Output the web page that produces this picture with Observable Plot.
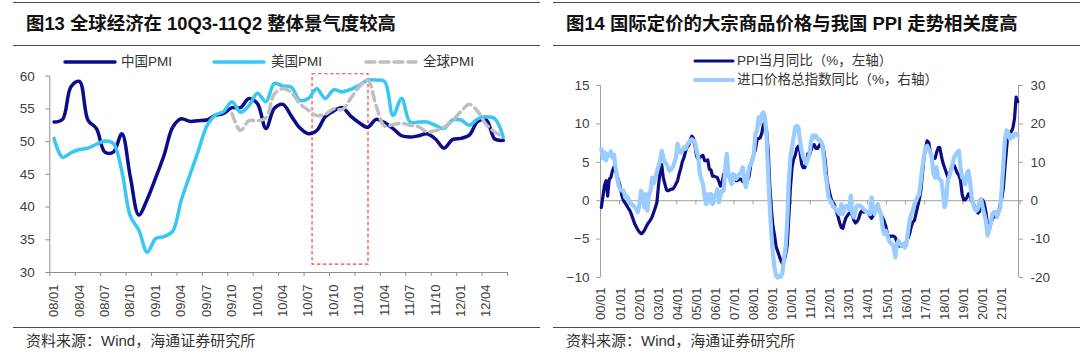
<!DOCTYPE html>
<html><head><meta charset="utf-8">
<script src="https://cdn.jsdelivr.net/npm/d3@7"></script>
<script src="https://cdn.jsdelivr.net/npm/@observablehq/plot@0.6"></script>
<style>
body{margin:0;background:#fff;}
#page{position:relative;width:1080px;height:355px;overflow:hidden;background:#fff;font-family:"Liberation Sans","Noto Sans CJK SC",sans-serif;}
.rule{position:absolute;height:0;border-top:1.8px solid #4a4a4a;}
.title{position:absolute;font-weight:bold;font-size:18.4px;color:#111;line-height:22px;white-space:nowrap;}
.src{position:absolute;font-size:15px;color:#333;line-height:18px;white-space:nowrap;}
.leg{position:absolute;font-size:13.5px;color:#333;line-height:16px;white-space:nowrap;}
.chart{position:absolute;top:50px;}
svg.sw{position:absolute;overflow:visible;}
</style></head><body><div id="page"></div>
<script>
// ---------------- data: figure 13 (monthly, 2008-01 .. 2012-06) ----------------
const leftXLabels = ["08/01","08/04","08/07","08/10","09/01","09/04","09/07","09/10","10/01","10/04","10/07","10/10","11/01","11/04","11/07","11/10","12/01","12/04"];
const leftYTicks = [30,35,40,45,50,55,60];
const leftSeriesNames = ["中国PMI","美国PMI","全球PMI"];
const chinaPMI = [53.0,53.4,58.4,59.2,53.3,52.0,48.4,48.4,51.2,44.6,38.8,41.2,
  44.5,48.0,52.2,53.5,53.1,53.2,53.3,54.0,54.3,55.2,55.2,56.6,
  55.8,52.0,55.1,55.7,53.9,52.1,51.2,51.7,53.8,54.7,55.2,53.9,
  52.9,52.2,53.4,52.9,52.0,50.9,50.7,50.9,51.2,50.4,49.0,50.3,
  50.5,51.0,53.1,53.3,50.4,50.2];
const usPMI = [50.5,47.6,48.3,48.8,49.0,49.6,50.1,49.7,45.5,38.6,36.5,33.1,
  35.2,35.5,36.3,41.0,44.8,48.5,52.3,54.0,54.6,56.1,54.5,55.5,
  57.4,56.1,58.9,58.5,58.3,56.3,56.6,58.1,56.6,57.9,57.6,58.0,
  58.6,59.4,59.4,59.2,54.0,56.6,53.0,53.0,53.0,52.5,52.0,53.3,
  53.3,52.5,53.5,53.8,53.5,50.7];
const globalPMI = [null,null,null,null,null,null,null,null,null,null,null,null,
  null,null,null,null,null,null,null,null,null,54.3,51.7,53.2,
  53.2,53.6,57.3,58.1,57.5,55.8,54.8,54.0,54.2,55.0,54.9,56.6,
  58.4,59.4,55.5,52.4,52.6,52.8,52.5,52.3,51.5,51.7,52.2,53.2,
  54.6,55.7,54.6,52.6,51.5,50.7];
// highlighted window (month index / PMI units)
const highlightBox = [{x1: 30.5, x2: 37.1, y1: 31.2, y2: 60.3}];

// ---------------- data: figure 14 (monthly, 2000-01 .. 2021-11) ----------------
const rightXLabels = ["00/01","01/01","02/01","03/01","04/01","05/01","06/01","07/01","08/01","09/01","10/01","11/01","12/01","13/01","14/01","15/01","16/01","17/01","18/01","19/01","20/01","21/01"];
const ppiYTicks = [-10,-5,0,5,10,15];
const importYTicks = [-20,-10,0,10,20,30];
const rightSeriesNames = ["PPI当月同比（%，左轴）","进口价格总指数同比（%，右轴）"];
const ppiYoY = [
  -0.9,0.5,2.0,2.6,0.6,2.8,3.0,3.9,4.4,3.9,3.2,2.5,
  1.7,0.6,0.0,-0.3,-0.6,-1.0,-1.3,-1.8,-2.4,-3.0,-3.4,-3.8,
  -4.1,-4.3,-4.2,-3.9,-3.5,-3.1,-2.8,-2.5,-2.1,-1.5,-0.9,-0.2,
  2.0,3.8,4.7,3.0,2.2,1.4,1.3,1.4,1.5,1.5,1.8,2.2,
  2.6,3.5,4.2,5.1,5.6,6.4,7.0,7.2,7.9,8.4,8.1,7.1,
  5.8,5.4,5.6,5.8,5.9,5.2,5.2,5.3,4.1,4.0,3.2,3.2,
  3.1,3.0,2.5,1.9,2.4,3.5,3.6,3.4,3.5,2.9,2.8,3.1,
  3.3,2.6,2.7,2.8,2.8,2.5,2.4,2.6,2.7,3.2,4.6,5.4,
  6.1,6.6,8.0,8.1,8.2,8.8,10.0,10.1,9.1,6.6,2.0,-1.1,
  -3.3,-4.5,-6.0,-6.6,-7.2,-7.8,-8.2,-7.9,-7.0,-5.8,-2.1,1.7,
  4.3,5.4,5.9,6.8,7.1,6.4,4.8,4.3,4.3,5.0,6.1,5.9,
  6.6,7.2,7.3,6.8,6.8,7.1,7.5,7.3,6.5,5.0,2.7,1.7,
  0.7,0.0,-0.3,-0.7,-1.4,-2.1,-2.9,-3.5,-3.6,-2.8,-2.2,-1.9,
  -1.6,-1.6,-1.9,-2.6,-2.9,-2.7,-2.3,-1.6,-1.3,-1.5,-1.4,-1.4,
  -1.6,-2.0,-2.3,-2.0,-1.4,-1.1,-0.9,-1.2,-1.8,-2.2,-2.7,-3.3,
  -4.3,-4.8,-4.6,-4.6,-4.6,-4.8,-5.4,-5.9,-5.9,-5.9,-5.9,-5.9,
  -5.3,-4.9,-4.3,-3.4,-2.8,-2.6,-1.7,-0.8,0.1,1.2,3.3,5.5,
  6.9,7.8,7.6,6.4,5.5,5.5,5.5,6.3,6.9,6.9,5.8,4.9,
  4.3,3.7,3.1,3.4,4.1,4.7,4.6,4.1,3.6,3.3,2.7,0.9,
  0.1,0.1,0.4,0.9,0.6,0.0,-0.3,-0.8,-1.2,-1.6,-1.4,-0.5,
  0.1,-0.4,-1.5,-3.1,-3.7,-3.0,-2.4,-2.0,-2.1,-2.1,-1.5,-0.4,
  0.3,1.7,4.4,6.8,9.0,8.8,9.0,9.5,10.7,13.5,12.9];
const importPriceYoY = [
  13.5,11.0,12.6,10.5,12.2,11.8,12.8,11.2,12.0,8.7,6.0,3.8,
  3.0,2.6,2.6,0.9,1.2,0.5,-0.5,-0.9,-1.2,-1.7,-2.2,-3.0,
  -1.0,2.6,1.5,-1.7,1.7,-2.6,1.7,2.6,6.0,4.5,6.0,7.5,
  9.0,10.4,13.0,11.3,10.0,9.6,8.5,7.8,8.2,8.7,10.0,11.3,
  14.8,13.0,12.5,13.0,13.9,13.5,14.5,15.2,15.5,16.0,15.6,15.2,
  13.0,11.3,7.0,5.5,4.3,0.9,-0.9,1.7,-0.4,1.7,-0.9,1.3,
  1.3,3.0,-0.4,1.5,2.6,2.6,8.7,12.2,7.0,5.5,4.3,7.0,
  6.0,5.7,6.5,7.0,7.5,8.7,5.2,3.5,6.0,8.7,9.5,10.4,
  12.2,17.4,18.3,21.7,20.0,22.6,23.0,21.7,16.5,7.0,-1.7,-8.7,
  -13.9,-17.4,-19.6,-20.0,-19.6,-19.8,-18.7,-15.0,-12.2,-5.2,5.2,11.3,
  14.0,16.5,19.1,19.5,19.1,15.7,13.0,11.3,10.5,9.6,11.0,12.2,
  15.5,17.0,16.5,17.0,16.0,16.0,15.5,14.8,11.3,7.0,4.3,0.9,
  0.0,-0.5,-1.7,-1.7,-2.5,-3.0,-3.5,-0.9,-3.5,-1.7,-1.3,-2.0,
  -2.2,1.3,-3.5,-4.3,-2.2,-1.3,-1.3,-1.3,-1.7,-2.2,-2.6,-3.0,
  -3.0,-3.5,0.9,-2.6,-3.5,-1.7,-0.9,-2.6,-3.5,-7.0,-8.7,-7.8,
  -9.0,-10.4,-11.0,-11.3,-12.0,-14.8,-11.3,-10.4,-11.3,-11.7,-11.3,-12.2,
  -11.3,-8.0,-5.2,-3.5,-2.6,-1.0,0.0,1.0,1.7,5.0,8.7,11.5,
  13.9,14.3,13.5,12.5,11.3,7.0,6.0,8.7,6.0,5.5,5.2,2.0,
  -1.7,0.0,5.2,6.5,7.8,9.5,11.3,12.0,12.6,13.0,8.7,6.0,
  6.0,4.3,7.0,7.8,5.2,0.9,-0.9,-2.2,-2.6,-2.2,0.0,0.4,
  -1.7,-3.5,-5.2,-9.1,-7.8,-6.1,-3.5,-3.0,-3.0,-4.3,-2.6,-2.0,
  3.5,9.6,16.1,18.3,17.8,16.1,17.0,16.5,17.4,17.4,17.0];

// ---------------- page furniture ----------------
const page = document.getElementById("page");
function el(tag, cls, style, text){const e=document.createElement(tag); if(cls) e.className=cls; Object.assign(e.style, style); if(text!=null) e.textContent=text; page.appendChild(e); return e;}
const C = {china:"#0c0c8a", us:"#38c6f4", global:"#bfbfbf", ppi:"#0c0c84", imp:"#99ccff", axis:"#8c8c8c", text:"#404040"};

// rules
[[13,540],[553,1080]].forEach(([a,b])=>{
  el("div","rule",{left:a+"px",width:(b-a)+"px",top:"2px"});
  el("div","rule",{left:a+"px",width:(b-a)+"px",top:"45px"});
  el("div","rule",{left:a+"px",width:(b-a)+"px",top:"327px"});
});
el("div","title",{left:"26px",top:"13px"},"图13 全球经济在 10Q3-11Q2 整体景气度较高");
el("div","title",{left:"566px",top:"13px"},"图14 国际定价的大宗商品价格与我国 PPI 走势相关度高");
el("div","src",{left:"26px",top:"332px"},"资料来源：Wind，海通证券研究所");
el("div","src",{left:"566px",top:"332px"},"资料来源：Wind，海通证券研究所");

function swatch(x1,x2,y,color,w,dash){
  const ns="http://www.w3.org/2000/svg";
  const s=document.createElementNS(ns,"svg"); s.setAttribute("class","sw");
  s.setAttribute("width",x2-x1+4); s.setAttribute("height",10);
  s.style.left=(x1-2)+"px"; s.style.top=(y-5)+"px";
  const l=document.createElementNS(ns,"line");
  l.setAttribute("x1",2); l.setAttribute("x2",x2-x1+2); l.setAttribute("y1",5); l.setAttribute("y2",5);
  l.setAttribute("stroke",color); l.setAttribute("stroke-width",w); l.setAttribute("stroke-linecap","round");
  if(dash) l.setAttribute("stroke-dasharray",dash);
  s.appendChild(l); page.appendChild(s);
}
// left legend
swatch(65,115,62,C.china,3.5); el("div","leg",{left:"121px",top:"54px"},leftSeriesNames[0]);
swatch(214,264,62,C.us,3.5); el("div","leg",{left:"271px",top:"54px"},leftSeriesNames[1]);
swatch(366,416,62,C.global,3.5,"9,5"); el("div","leg",{left:"423px",top:"54px"},leftSeriesNames[2]);
// right legend
swatch(695,733,61,C.ppi,3); el("div","leg",{left:"737px",top:"53px"},rightSeriesNames[0]);
swatch(695,733,80,C.imp,4); el("div","leg",{left:"737px",top:"72px"},rightSeriesNames[1]);

// ---------------- figure 13 ----------------
const rowsOf = arr => arr.map((v,i)=>({i, v}));
const leftChart = Plot.plot({
  width:540, height:275,
  marginLeft:49.3, marginRight:33, marginTop:25.7, marginBottom:53,
  style:{fontFamily:"Liberation Sans, Arial, sans-serif", fontSize:"13.5px", color:C.text, background:"transparent", overflow:"visible"},
  x:{type:"linear", domain:[-0.5, chinaPMI.length-0.5], label:null},
  y:{domain:[leftYTicks[0], leftYTicks[leftYTicks.length-1]], label:null},
  marks:[
    Plot.rect(highlightBox,{x1:"x1",x2:"x2",y1:"y1",y2:"y2",fill:"none",stroke:"#ff3b3b",strokeWidth:1.2,strokeDasharray:"3.5,2.5"}),
    Plot.line(rowsOf(chinaPMI),{x:"i",y:"v",stroke:C.china,strokeWidth:3.5,curve:"catmull-rom"}),
    Plot.line(rowsOf(usPMI),{x:"i",y:"v",stroke:C.us,strokeWidth:3.5,curve:"catmull-rom"}),
    Plot.line(rowsOf(globalPMI).filter(d=>d.v!=null),{x:"i",y:"v",stroke:C.global,strokeWidth:3.5,strokeDasharray:"9,5",curve:"catmull-rom"}),
    Plot.ruleX([-0.5],{stroke:C.axis}),
    Plot.ruleY([leftYTicks[0]],{stroke:C.axis}),
    Plot.axisY(leftYTicks,{anchor:"left",tickSize:4,tickPadding:11,stroke:C.axis,fill:C.text,fontSize:13.5,label:null}),
    Plot.axisX(d3.range(leftXLabels.length+1).map(k=>3*k-0.5),{anchor:"bottom",tickSize:4,tickFormat:()=>"",stroke:C.axis,label:null}),
    Plot.axisX(d3.range(leftXLabels.length).map(k=>3*k),{anchor:"bottom",tickSize:0,tickPadding:12,tickRotate:-90,tickFormat:d=>leftXLabels[Math.round(d/3)],fill:C.text,fontSize:13,label:null})
  ]
});
const lc = el("div","chart",{left:"0px"}); lc.appendChild(leftChart);

// ---------------- figure 14 ----------------
const ratio = importYTicks[importYTicks.length-1]/ppiYTicks[ppiYTicks.length-1];
const rightChart = Plot.plot({
  width:540, height:275,
  marginLeft:60, marginRight:62, marginTop:35, marginBottom:48,
  style:{fontFamily:"Liberation Sans, Arial, sans-serif", fontSize:"13.5px", color:C.text, background:"transparent", overflow:"visible"},
  x:{type:"linear", domain:[-0.5, ppiYoY.length-0.5], label:null},
  y:{domain:[ppiYTicks[0], ppiYTicks[ppiYTicks.length-1]], label:null},
  marks:[
    Plot.ruleY([0],{stroke:"#a0a0a0"}),
    Plot.ruleX(d3.range(rightXLabels.length+1).map(k=>12*k-0.5),{x:d=>d,y1:0,y2:-0.55,stroke:"#a0a0a0"}),
    Plot.ruleX([-0.5, ppiYoY.length-0.5],{stroke:"#a0a0a0"}),
    Plot.line(rowsOf(ppiYoY),{x:"i",y:"v",stroke:C.ppi,strokeWidth:3.2}),
    Plot.line(rowsOf(importPriceYoY),{x:"i",y:d=>d.v/ratio,stroke:C.imp,strokeWidth:4.2}),
    Plot.axisY(ppiYTicks,{anchor:"left",tickSize:4,tickPadding:7,stroke:"#a0a0a0",fill:C.text,fontSize:13.5,label:null}),
    Plot.axisY(importYTicks.map(d=>d/ratio),{anchor:"right",tickSize:4,tickPadding:8,tickFormat:d=>Math.round(d*ratio),stroke:"#a0a0a0",fill:C.text,fontSize:13.5,label:null}),
    Plot.axisX(d3.range(rightXLabels.length).map(k=>12*k),{anchor:"bottom",tickSize:0,tickPadding:10,tickRotate:-90,tickFormat:d=>rightXLabels[Math.round(d/12)],fill:C.text,fontSize:13,label:null})
  ]
});
const rc = el("div","chart",{left:"540px"}); rc.appendChild(rightChart);
</script></body></html>
